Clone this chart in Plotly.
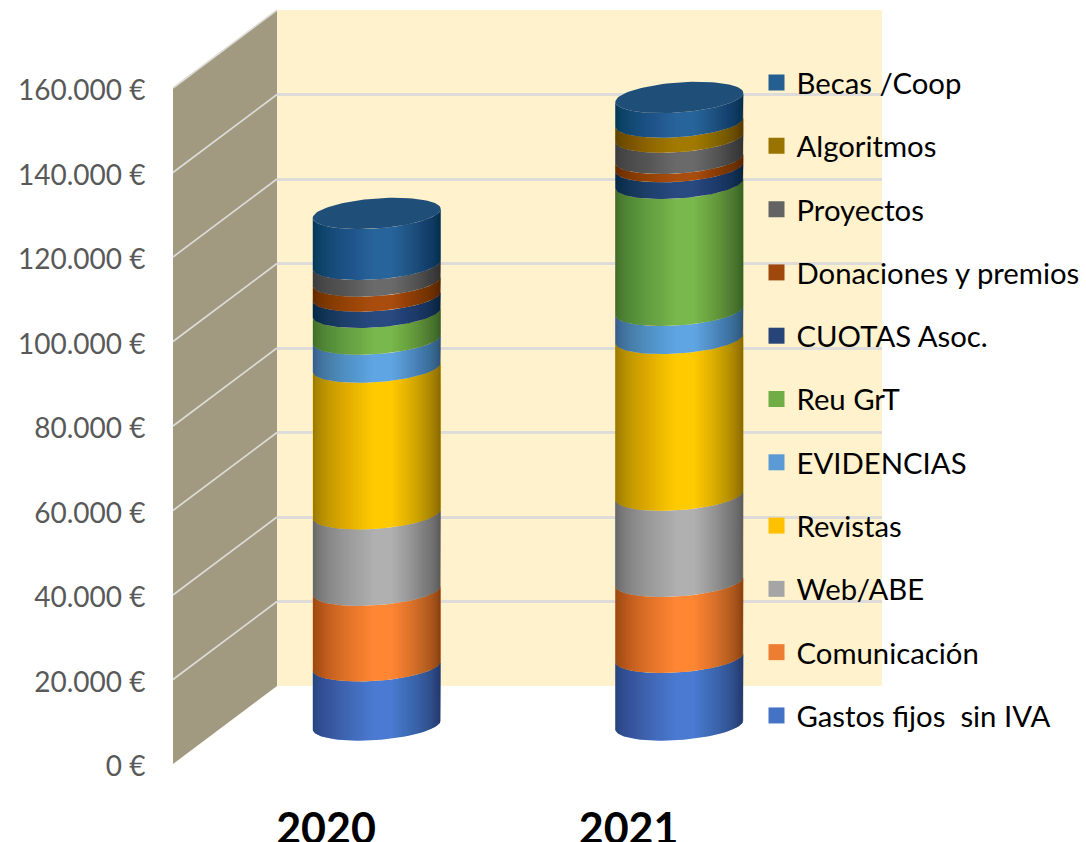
import math
import plotly.graph_objects as go

years = ["2020", "2021"]
series = ["Gastos fijos  sin IVA", "Comunicación", "Web/ABE", "Revistas", "EVIDENCIAS",
          "Reu GrT", "CUOTAS Asoc.", "Donaciones y premios", "Proyectos", "Algoritmos", "Becas /Coop"]
values_2020 = [14000, 17900, 18100, 34700, 6640, 6320, 3860, 3550, 3950, 0, 12060]
values_2021 = [16000, 18000, 20400, 37100, 6630, 30060, 3950, 1970, 5040, 3550, 5840]
legend_colors = ["#4472C4", "#ED7D31", "#A5A5A5", "#FFC000", "#5B9BD5", "#70AD47",
                 "#264478", "#9E480E", "#636363", "#997300", "#255E91"]
body_colors = ["#4A7AD1", "#FF8633", "#B0B0B0", "#FFCB00", "#60A5E3", "#78B84C",
               "#284A80", "#A94D0F", "#6A6A6A", "#A37A00", "#27649B"]
cap_color = "#1F4E79"
wall_back = "#FFF2CC"
wall_side = "#A29A80"
grid_color = "#DEDCD8"
tick_values = list(range(0, 160001, 20000))
tick_labels = ["0 €", "20.000 €", "40.000 €", "60.000 €", "80.000 €", "100.000 €", "120.000 €", "140.000 €", "160.000 €"]

W, H = 1086, 842
E_PER_PX = 20000 / 84.5
X_UNIT = 302.6           # px between cylinders
CX0 = 376.7              # px of the first cylinder
RX = 64 / X_UNIT         # cylinder half width, x units
EB = 15 * E_PER_PX       # ellipse half depth, euros
ES = 4.5 * E_PER_PX      # ellipse tilt, euros
BASE_PX = 725
DEPTH = 39 * E_PER_PX    # front/back offset from the cylinder plane
WALL_L = (173 - CX0) / X_UNIT
WALL_R = (277 - CX0) / X_UNIT


def arc(cx, v, t0, t1, n=48):
    xs, ys = [], []
    for i in range(n + 1):
        t = t0 + (t1 - t0) * i / n
        xs.append(cx + RX * math.cos(t))
        ys.append(v + ES * math.cos(t) + EB * math.sin(t))
    return xs, ys


def band(cx, v0, v1, u0=0.0, u1=1.0):
    """Front side of a cylinder between v0 and v1, between width fractions u0..u1."""
    t0 = math.pi + math.acos(1 - 2 * u0) if u0 > 0 else math.pi
    t1 = math.pi + math.acos(1 - 2 * u1) if u1 < 1 else 2 * math.pi
    xa, ya = arc(cx, v1, t0, t1)
    xb, yb = arc(cx, v0, t1, t0)
    return xa + xb + [xa[0]], ya + yb + [ya[0]]


fig = go.Figure()

# back wall grid lives on the first subplot
fig.add_trace(go.Scatter(x=[0, 1], y=[None, None], xaxis="x", yaxis="y", showlegend=False, hoverinfo="skip"))

# side wall and its diagonals, in cylinder-plane coordinates
top = tick_values[-1]
fig.add_trace(go.Scatter(
    x=[WALL_L, WALL_R, WALL_R, WALL_L, WALL_L],
    y=[-DEPTH, DEPTH, top + DEPTH, top - DEPTH, -DEPTH],
    mode="lines", line=dict(width=0), fill="toself", fillcolor=wall_side,
    xaxis="x2", yaxis="y2", showlegend=False, hoverinfo="skip"))
dx, dy = [], []
for v in tick_values[1:]:
    dx += [WALL_L, WALL_R, None]
    dy += [v - DEPTH, v + DEPTH, None]
fig.add_trace(go.Scatter(x=dx, y=dy, mode="lines", line=dict(color=grid_color, width=1.6),
                         xaxis="x2", yaxis="y2", showlegend=False, hoverinfo="skip"))

# cylinder bodies
totals = []
for i, name in enumerate(series):
    xs, ys = [], []
    for c, vals in enumerate([values_2020, values_2021]):
        if vals[i] <= 0:
            continue
        v0 = sum(vals[:i])
        px, py = band(c, v0, v0 + vals[i])
        xs += px + [None]
        ys += py + [None]
    fig.add_trace(go.Scatter(x=xs, y=ys, mode="lines", line=dict(width=0), fill="toself",
                             fillcolor=body_colors[i], xaxis="x2", yaxis="y2", name=name,
                             showlegend=False, hoverinfo="skip"))

# shading: nested translucent layers, darker towards both edges
N = 40
for c, vals in enumerate([values_2020, values_2021]):
    tot = sum(vals)
    totals.append(tot)
    al = 1 - (1 - 0.34) ** (1 / N)
    ar = 1 - (1 - 0.50) ** (1 / N)
    for k in range(N):
        f = ((k + 1) / N) ** 2.0
        px, py = band(c, 0, tot, 0.0, 0.47 * f)
        fig.add_trace(go.Scatter(x=px, y=py, mode="lines", line=dict(width=0), fill="toself",
                                 fillcolor=f"rgba(0,0,0,{al:.4f})", xaxis="x2", yaxis="y2",
                                 showlegend=False, hoverinfo="skip"))
        px, py = band(c, 0, tot, 1 - 0.38 * f, 1.0)
        fig.add_trace(go.Scatter(x=px, y=py, mode="lines", line=dict(width=0), fill="toself",
                                 fillcolor=f"rgba(0,0,0,{ar:.4f})", xaxis="x2", yaxis="y2",
                                 showlegend=False, hoverinfo="skip"))

# top caps
cx_all, cy_all = [], []
for c, tot in enumerate(totals):
    px, py = arc(c, tot, 0, 2 * math.pi, 96)
    cx_all += px + [None]
    cy_all += py + [None]
fig.add_trace(go.Scatter(x=cx_all, y=cy_all, mode="lines", line=dict(width=0), fill="toself",
                         fillcolor=cap_color, xaxis="x2", yaxis="y2", showlegend=False, hoverinfo="skip"))

# legend swatches (top entry = last series)
for name, col in reversed(list(zip(series, legend_colors))):
    fig.add_trace(go.Scatter(x=[None], y=[None], mode="markers", name=name, legendgroup=name,
                             marker=dict(symbol="square", size=18, color=col),
                             xaxis="x2", yaxis="y2", hoverinfo="skip"))

# axis labels (front plane)
fig.add_trace(go.Scatter(x=[None], y=[None], xaxis="x3", yaxis="y3", showlegend=False, hoverinfo="skip"))

fig.update_layout(
    width=W, height=H, margin=dict(l=0, r=0, t=0, b=0, autoexpand=False), autosize=False,
    paper_bgcolor="white", plot_bgcolor="rgba(0,0,0,0)", separators=",.",
    font=dict(family="Lato, Open Sans, sans-serif"),
    xaxis=dict(domain=[277 / W, 882 / W], range=[0, 1], visible=False),
    yaxis=dict(domain=[(H - 686) / H, (H - 10) / H], range=[0, top], tickvals=tick_values,
               showticklabels=False, showgrid=True, gridcolor=grid_color, gridwidth=2.5,
               zeroline=False, showline=False, ticks=""),
    xaxis2=dict(domain=[0, 1], anchor="y2", range=[-CX0 / X_UNIT, (W - CX0) / X_UNIT], visible=False),
    yaxis2=dict(domain=[0, 1], anchor="x2", range=[-(H - BASE_PX) * E_PER_PX, BASE_PX * E_PER_PX], visible=False),
    xaxis3=dict(overlaying="x2", range=[-326 / X_UNIT, (W - 326) / X_UNIT], tickvals=[0, 1], ticktext=years,
                anchor="free", position=(H - 800) / H, showgrid=False, zeroline=False, showline=False, ticks="",
                tickfont=dict(size=43, color="black", family="Lato, Open Sans, sans-serif", weight="bold")),
    yaxis3=dict(overlaying="y2", range=[-(H - 766.5) * E_PER_PX, 766.5 * E_PER_PX], tickvals=tick_values,
                ticktext=tick_labels, anchor="free", position=173 / W, side="left",
                showgrid=False, zeroline=False, showline=False, ticks="outside", ticklen=22,
                tickcolor="rgba(0,0,0,0)", tickfont=dict(size=28, color="#595959")),
    legend=dict(x=756.5 / W, xanchor="left", y=(H - 57) / H, yanchor="top", traceorder="grouped",
                tracegroupgap=22.2, bgcolor="rgba(0,0,0,0)", font=dict(size=29.3, color="black"),
                itemsizing="trace", itemclick=False, itemdoubleclick=False),
    shapes=[dict(type="rect", xref="x domain", yref="y domain", x0=0, x1=1, y0=0, y1=1,
                 fillcolor=wall_back, line=dict(width=0), layer="below")],
)

fig.write_html("out.html", config={"displayModeBar": False}, post_script="document.body.style.margin='0';")
